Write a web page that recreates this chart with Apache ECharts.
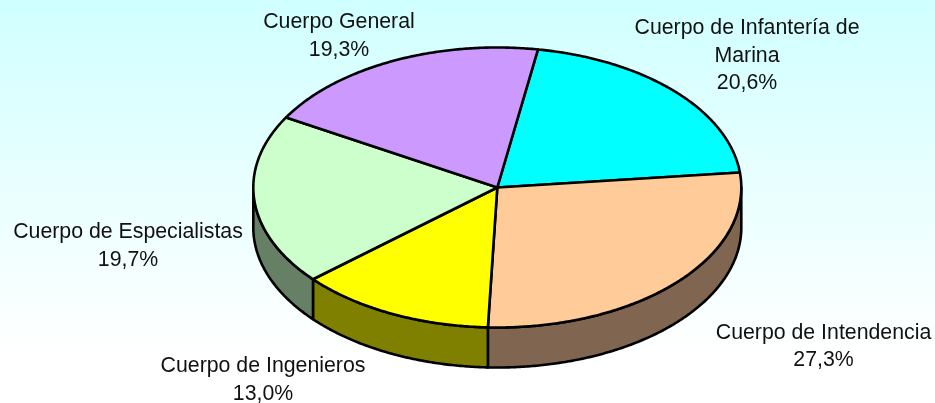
<!DOCTYPE html>
<html>
<head>
<meta charset="utf-8">
<style>
  html, body { margin: 0; padding: 0; }
  #chart { width: 935px; height: 403px; }
</style>
<script src="https://cdn.jsdelivr.net/npm/echarts@6/dist/echarts.min.js"></script>
</head>
<body>
<div id="chart"></div>
<script>
// clockwise from the first slice after the start angle
const categories = ['Cuerpo de Infantería de\nMarina', 'Cuerpo de Intendencia', 'Cuerpo de Ingenieros', 'Cuerpo de Especialistas', 'Cuerpo General'];
const values = [20.6, 27.3, 13.0, 19.7, 19.3];

const topColors = ['#00FFFF', '#FFCC99', '#FFFF00', '#CCFFCC', '#CC99FF'];
const sideColors = ['#008080', '#806650', '#808000', '#668066', '#664C80'];
const labelCenters = [[747, 56], [823.5, 346.5], [263, 380], [128, 246], [339, 36]];

const cx = 497.3, cy = 187.5, rx = 244, ry = 140, depth = 40;
const startAngle = 9.6;
const total = values.reduce((a, b) => a + b, 0);

function sliceRange(i) {
  let before = 0;
  for (let k = 0; k < i; k++) before += values[k];
  return [startAngle + before / total * 360, startAngle + (before + values[i]) / total * 360];
}

function rimPoint(deg, dy) {
  const t = deg * Math.PI / 180;
  return [cx + rx * Math.sin(t), cy - ry * Math.cos(t) + dy];
}

function arcPoints(from, to, dy) {
  const pts = [];
  const n = Math.max(2, Math.ceil(Math.abs(to - from) * 2));
  for (let k = 0; k <= n; k++) pts.push(rimPoint(from + (to - from) * k / n, dy));
  return pts;
}

const lineStyle = { stroke: '#000', lineWidth: 2.6, lineJoin: 'round' };

// outer wall, only the front half (90..270 degrees) can be seen
function renderSide(params) {
  const r = sliceRange(params.dataIndex);
  const from = Math.max(r[0], 90), to = Math.min(r[1], 270);
  if (to <= from) return { type: 'group', children: [] };
  const pts = arcPoints(from, to, 0).concat(arcPoints(to, from, depth));
  return {
    type: 'polygon',
    shape: { points: pts },
    style: Object.assign({ fill: sideColors[params.dataIndex] }, lineStyle)
  };
}

function renderTop(params) {
  const i = params.dataIndex;
  const r = sliceRange(i);
  const pts = [[cx, cy]].concat(arcPoints(r[0], r[1], 0));
  return {
    type: 'polygon',
    shape: { points: pts },
    style: Object.assign({ fill: topColors[i] }, lineStyle)
  };
}

function renderLabel(params) {
  const i = params.dataIndex;
  return {
    type: 'text',
    x: labelCenters[i][0],
    y: labelCenters[i][1],
    style: {
      text: categories[i] + '\n' + values[i].toFixed(1).replace('.', ',') + '%',
      fill: '#111',
      font: '21.3px "Liberation Sans", Arial, sans-serif',
      lineHeight: 27.5,
      align: 'center',
      verticalAlign: 'middle'
    }
  };
}

const myChart = echarts.init(document.getElementById('chart'), null, { renderer: 'canvas' });
myChart.setOption({
  animation: false,
  backgroundColor: new echarts.graphic.LinearGradient(0, 0, 0, 1, [
    { offset: 0, color: '#D0FFFF' },
    { offset: 0.88, color: '#FFFFFF' },
    { offset: 1, color: '#FFFFFF' }
  ]),
  series: [
    { type: 'custom', coordinateSystem: 'none', renderItem: renderSide, data: values, silent: true, z: 1 },
    { type: 'custom', coordinateSystem: 'none', renderItem: renderTop, data: values, silent: true, z: 2 },
    { type: 'custom', coordinateSystem: 'none', renderItem: renderLabel, data: values, silent: true, z: 3 }
  ]
});
</script>
</body>
</html>
